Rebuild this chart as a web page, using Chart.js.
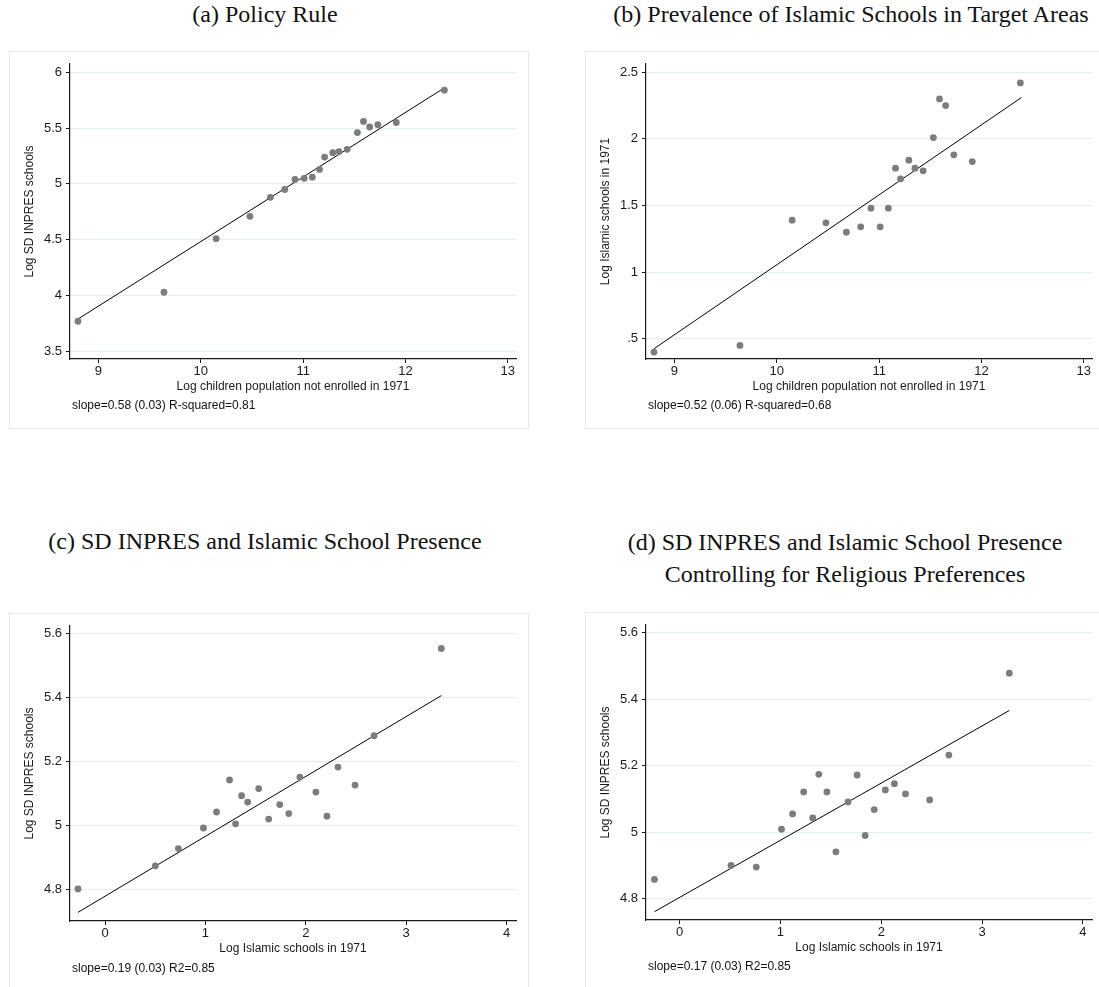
<!DOCTYPE html>
<html>
<head>
<meta charset="utf-8">
<script src="https://cdn.jsdelivr.net/npm/chart.js@4/dist/chart.umd.min.js"></script>
<style>
  body { margin: 0; width: 1099px; height: 987px; overflow: hidden; background: #fff; position: relative; }
  .title { position: absolute; width: 530px; text-align: center; font: 24px/31.5px "Liberation Serif", serif; color: #111; white-space: nowrap; }
  .frame { position: absolute; width: 518px; height: 376px; border: 1px solid #e3ebeb; }
  .note { position: absolute; font: 12px/14px "Liberation Sans", Arial, sans-serif; color: #111; white-space: nowrap; }
  canvas { position: absolute; }
</style>
</head>
<body>
<div class="title" style="left:0px; top:-1px">(a) Policy Rule</div>
<div class="title" style="left:586px; top:-1px">(b) Prevalence of Islamic Schools in Target Areas</div>
<div class="title" style="left:0px; top:526px">(c) SD INPRES and Islamic School Presence</div>
<div class="title" style="left:580px; top:527px">(d) SD INPRES and Islamic School Presence<br>Controlling for Religious Preferences</div>

<div class="frame" style="left:9px; top:51px"></div>
<div class="frame" style="left:585px; top:51px"></div>
<div class="frame" style="left:9px; top:613px"></div>
<div class="frame" style="left:585px; top:612px"></div>

<canvas id="chartA" width="520" height="378" style="left:9px; top:51px"></canvas>
<canvas id="chartB" width="520" height="378" style="left:585px; top:51px"></canvas>
<canvas id="chartC" width="520" height="378" style="left:9px; top:613px"></canvas>
<canvas id="chartD" width="520" height="378" style="left:585px; top:612px"></canvas>

<div class="note" style="left:72px; top:398px">slope=0.58 (0.03) R-squared=0.81</div>
<div class="note" style="left:648px; top:398px">slope=0.52 (0.06) R-squared=0.68</div>
<div class="note" style="left:72px; top:961px">slope=0.19 (0.03) R2=0.85</div>
<div class="note" style="left:648px; top:959px">slope=0.17 (0.03) R2=0.85</div>

<script>
// 横軸: 1971年の未就学児人口(対数) — (a)(b) 共通
const popX = [8.80, 9.64, 10.15, 10.48, 10.68, 10.82, 10.92, 11.01, 11.09, 11.16,
              11.21, 11.29, 11.35, 11.43, 11.53, 11.59, 11.65, 11.73, 11.91, 12.38];
// (a) SD INPRES 校数(対数)
const inpresA = [3.77, 4.03, 4.51, 4.71, 4.88, 4.95, 5.04, 5.05, 5.06, 5.13,
                 5.24, 5.28, 5.29, 5.31, 5.46, 5.56, 5.51, 5.53, 5.55, 5.84];
// (b) 1971年のイスラム学校数(対数)
const islamicB = [0.40, 0.45, 1.39, 1.37, 1.30, 1.34, 1.48, 1.34, 1.48, 1.78,
                  1.70, 1.84, 1.78, 1.76, 2.01, 2.30, 2.25, 1.88, 1.83, 2.42];
// (c)
const islamicC = [-0.27, 0.50, 0.73, 0.98, 1.11, 1.24, 1.30, 1.36, 1.42, 1.53,
                  1.63, 1.74, 1.83, 1.94, 2.10, 2.21, 2.32, 2.49, 2.68, 3.35];
const inpresC = [4.803, 4.875, 4.929, 4.993, 5.043, 5.143, 5.006, 5.094, 5.074, 5.116,
                 5.021, 5.066, 5.038, 5.152, 5.105, 5.030, 5.183, 5.127, 5.281, 5.553];
// (d)
const islamicD = [-0.25, 0.51, 0.76, 1.01, 1.12, 1.23, 1.32, 1.38, 1.46, 1.55,
                  1.67, 1.76, 1.84, 1.93, 2.04, 2.13, 2.24, 2.48, 2.67, 3.27];
const inpresD = [4.858, 4.900, 4.895, 5.009, 5.055, 5.121, 5.043, 5.174, 5.121, 4.941,
                 5.091, 5.172, 4.990, 5.068, 5.127, 5.146, 5.115, 5.097, 5.232, 5.478];

// 回帰直線の端点
const fitAx = [8.80, 12.38],  fitAy = [3.79, 5.86];
const fitBx = [8.80, 12.39],  fitBy = [0.425, 2.31];
const fitCx = [-0.27, 3.35],  fitCy = [4.73, 5.406];
const fitDx = [-0.25, 3.27],  fitDy = [4.761, 5.366];

// 目盛り
const popTicks = [9, 10, 11, 12, 13];
const islamicTicks = [0, 1, 2, 3, 4];
const inpresTicksA = [3.5, 4, 4.5, 5, 5.5, 6];
const islamicTicksB = [0.5, 1, 1.5, 2, 2.5];
const inpresTicksCD = [4.8, 5, 5.2, 5.4, 5.6];

const INK = "#1a1a1a";
const SANS = "'Liberation Sans', Arial, sans-serif";

function pts(xs, ys) {
    return xs.map((x, i) => ({ x: x, y: ys[i] }));
}

// 0.5 -> ".5" (Stata風)
function fmt(v) {
    return String(+v.toFixed(2)).replace(/^0\./, ".");
}

function panel(id, p) {
    const ctx = document.getElementById(id).getContext("2d");
    new Chart(ctx, {
        type: "scatter",
        data: {
            datasets: [
                {
                    data: pts(p.x, p.y),
                    backgroundColor: "#7c7c7c",
                    borderWidth: 0,
                    pointRadius: 3.4,
                },
                {
                    type: "line",
                    data: pts(p.fx, p.fy),
                    borderColor: "#000",
                    borderWidth: 1,
                    pointRadius: 0,
                    fill: false,
                },
            ],
        },
        options: {
            responsive: false,
            animation: false,
            devicePixelRatio: 1,
            layout: { padding: { top: 13, right: 13, left: 0, bottom: 0 } },
            plugins: { legend: { display: false }, tooltip: { enabled: false } },
            scales: {
                x: {
                    type: "linear",
                    min: p.xr[0],
                    max: p.xr[1],
                    afterBuildTicks: s => { s.ticks = p.xt.map(v => ({ value: v })); },
                    afterFit: s => { s.height = 70; },
                    grid: { drawOnChartArea: false, tickLength: 4, tickColor: INK },
                    border: { color: INK, width: 1.2 },
                    ticks: { color: INK, font: { family: SANS, size: 13 }, padding: 1,
                             maxRotation: 0, minRotation: 0, autoSkip: false, callback: fmt },
                    title: { display: true, text: p.xl, color: INK,
                             font: { family: SANS, size: 12 }, padding: { top: 0, bottom: 35 } },
                },
                y: {
                    type: "linear",
                    min: p.yr[0],
                    max: p.yr[1],
                    afterBuildTicks: s => { s.ticks = p.yt.map(v => ({ value: v })); },
                    afterFit: s => { s.width = 61; },
                    grid: { color: "#e4eef0", lineWidth: 1, tickLength: 4, tickColor: INK },
                    border: { color: INK, width: 1.2 },
                    ticks: { color: INK, font: { family: SANS, size: 13 }, padding: 4, callback: fmt },
                    title: { display: true, text: p.yl, color: INK,
                             font: { family: SANS, size: 12 }, padding: { top: 13, bottom: 0 } },
                },
            },
        },
    });
}

const popLabel = "Log children population not enrolled in 1971";
const islamicLabel = "Log Islamic schools in 1971";
const inpresLabel = "Log SD INPRES schools";

panel("chartA", { x: popX, y: inpresA, fx: fitAx, fy: fitAy,
    xr: [8.722, 13.08], yr: [3.432, 6.074], xt: popTicks, yt: inpresTicksA,
    xl: popLabel, yl: inpresLabel });
panel("chartB", { x: popX, y: islamicB, fx: fitBx, fy: fitBy,
    xr: [8.722, 13.08], yr: [0.348, 2.562], xt: popTicks, yt: islamicTicksB,
    xl: popLabel, yl: islamicLabel });
panel("chartC", { x: islamicC, y: inpresC, fx: fitCx, fy: fitCy,
    xr: [-0.35, 4.094], yr: [4.703, 5.623], xt: islamicTicks, yt: inpresTicksCD,
    xl: islamicLabel, yl: inpresLabel });
panel("chartD", { x: islamicD, y: inpresD, fx: fitDx, fy: fitDy,
    xr: [-0.334, 4.09], yr: [4.736, 5.623], xt: islamicTicks, yt: inpresTicksCD,
    xl: islamicLabel, yl: inpresLabel });
</script>
</body>
</html>
